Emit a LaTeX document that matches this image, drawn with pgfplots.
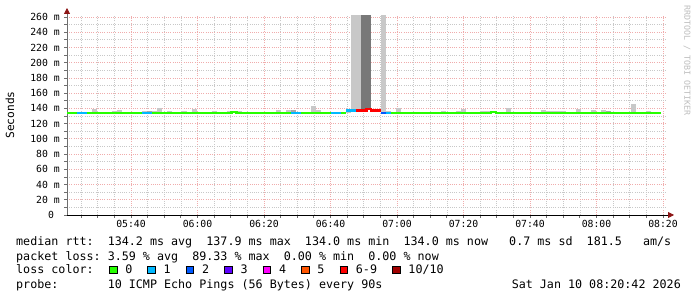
\documentclass[border=0pt]{standalone}
\usepackage{pgfplots}
\pgfplotsset{compat=1.18}
\usepackage{fontspec}
\setmainfont{DejaVu Sans Mono}
\usetikzlibrary{arrows.meta}
\definecolor{lc0}{HTML}{26FF00}
\definecolor{lc1}{HTML}{00B8FF}
\definecolor{lc2}{HTML}{0059FF}
\definecolor{lc3}{HTML}{5E00FF}
\definecolor{lc4}{HTML}{FF00FF}
\definecolor{lc5}{HTML}{FF5500}
\definecolor{lc6}{HTML}{FF0000}
\definecolor{lc10}{HTML}{A10000}
\definecolor{smokeL}{RGB}{200,200,200}
\definecolor{smokeM}{RGB}{168,168,168}
\definecolor{smokeD}{RGB}{120,120,120}
\definecolor{mgrid}{RGB}{240,172,172}
\definecolor{ngrid}{RGB}{200,200,200}
\definecolor{arrowred}{RGB}{140,20,20}
\definecolor{yaxis}{RGB}{110,110,110}
\definecolor{wm}{RGB}{190,190,190}
\newcommand{\lbox}[1]{{\setlength{\fboxsep}{0pt}\setlength{\fboxrule}{0.9bp}\fcolorbox{black}{#1}{\rule{0pt}{6.8bp}\hspace{6.8bp}}}}
\newcommand{\legfont}{\fontsize{11.7bp}{14bp}\selectfont}
\begin{document}
\begin{tikzpicture}
\useasboundingbox[fill=white] (0,0) rectangle (697bp,297bp);
\begin{axis}[
  scale only axis, width=598.5bp, height=200bp,
  at={(67bp,82bp)}, anchor=south west,
  xmin=0, xmax=120, ymin=0, ymax=262.6,
  axis x line=bottom, axis y line=left,
  x axis line style={draw=black, line width=0.8bp, shorten >=-8.5bp, -{Triangle[length=6bp,width=6bp,color=arrowred,fill=arrowred]}},
  y axis line style={draw=yaxis, line width=0.8bp, shorten >=-7bp, -{Triangle[length=6bp,width=6bp,color=arrowred,fill=arrowred]}},
  xtick={12.8333,26.1667,39.5,52.8333,66.1667,79.5,92.8333,106.1667,119.5},
  xticklabels={05:40,06:00,06:20,06:40,07:00,07:20,07:40,08:00,08:20},
  minor xtick={2.8333,6.1667,9.5,16.1667,19.5,22.8333,29.5,32.8333,36.1667,42.8333,46.1667,49.5,56.1667,59.5,62.8333,69.5,72.8333,76.1667,82.8333,86.1667,89.5,96.1667,99.5,102.8333,109.5,112.8333,116.1667},
  ytick={0,20,40,60,80,100,120,140,160,180,200,220,240,260},
  yticklabels={0~~,20 m,40 m,60 m,80 m,100 m,120 m,140 m,160 m,180 m,200 m,220 m,240 m,260 m},
  minor ytick={10,30,50,70,90,110,130,150,170,190,210,230,250},
  grid=both,
  major grid style={draw=mgrid, dash pattern=on 1bp off 1.2bp, line width=0.7bp},
  minor grid style={draw=ngrid, dash pattern=on 1bp off 1.2bp, line width=0.7bp},
  tick align=outside,
  major tick length=3bp, minor tick length=3bp,
  tick style={draw=yaxis, line width=0.8bp},
  ticklabel style={font=\fontsize{9.8bp}{10bp}\selectfont},
  xticklabel style={anchor=north, inner sep=0pt, yshift=-2bp},
  yticklabel style={anchor=east, inner sep=0pt, xshift=-4bp},
  ylabel={Seconds},
  ylabel style={font=\fontsize{11.2bp}{12bp}\selectfont, at={(axis description cs:-0.0952,0.5)}, anchor=center},
  unbounded coords=jump,
]
% smoke: light small
\addplot[smokeL, line width=4.99bp, line cap=butt] coordinates {
(5.5,134.2)(5.5,139.6)(5.5,nan)
(9.5,134.2)(9.5,137)(9.5,nan)
(10.5,134.2)(10.5,138.2)(10.5,nan)
(15.5,134.2)(15.5,137)(15.5,nan)
(17.5,134.2)(17.5,137)(17.5,nan)
(18.5,134.2)(18.5,141)(18.5,nan)
(20.5,134.2)(20.5,137)(20.5,nan)
(23.5,134.2)(23.5,137)(23.5,nan)
(25.5,134.2)(25.5,139.6)(25.5,nan)
(29.5,134.2)(29.5,137)(29.5,nan)
(32.5,134.2)(32.5,137)(32.5,nan)
(33.5,134.2)(33.5,137)(33.5,nan)
(34.5,134.2)(34.5,137)(34.5,nan)
(42.5,134.2)(42.5,138.2)(42.5,nan)
(44.5,134.2)(44.5,138.2)(44.5,nan)
(49.5,134.2)(49.5,143.5)(49.5,nan)
(50.5,134.2)(50.5,138)(50.5,nan)
(64.5,134.2)(64.5,136)(64.5,nan)
(66.5,134.2)(66.5,140)(66.5,nan)
(75.5,134.2)(75.5,137)(75.5,nan)
(78.5,134.2)(78.5,137)(78.5,nan)
(79.5,134.2)(79.5,139.6)(79.5,nan)
(83.5,134.2)(83.5,137)(83.5,nan)
(84.5,134.2)(84.5,137)(84.5,nan)
(88.5,134.2)(88.5,141)(88.5,nan)
(95.5,134.2)(95.5,138)(95.5,nan)
(96.5,134.2)(96.5,137)(96.5,nan)
(97.5,134.2)(97.5,137)(97.5,nan)
(98.5,134.2)(98.5,137)(98.5,nan)
(99.5,134.2)(99.5,137)(99.5,nan)
(102.5,134.2)(102.5,139.8)(102.5,nan)
(105.5,134.2)(105.5,138)(105.5,nan)
(107.5,134.2)(107.5,138)(107.5,nan)
(113.5,134.2)(113.5,145.8)(113.5,nan)
(116.5,134.2)(116.5,137)
};
% smoke: medium small
\addplot[smokeM, line width=4.99bp, line cap=butt] coordinates {
(16.5,134.2)(16.5,137)(16.5,nan)
(45.5,134.2)(45.5,138.5)(45.5,nan)
(108.5,134.2)(108.5,137)
};
% smoke: tall light
\addplot[smokeL, line width=4.99bp, line cap=butt] coordinates {
(56.5,134.2)(56.5,137.5)(56.5,nan)
(57.5,137.5)(57.5,262.6)(57.5,nan)
(58.5,137.5)(58.5,262.6)(58.5,nan)
(63.5,134.2)(63.5,262.6)
};
% smoke: tall dark
\addplot[smokeD, line width=4.99bp, line cap=butt] coordinates {
(59.5,137.5)(59.5,262.6)(59.5,nan)
(60.5,139)(60.5,262.6)
};
% median rtt, coloured by loss
\addplot[lc0, line width=2.5bp, line cap=butt, line join=miter] coordinates {
(0,134.2)(2,134.2)(2,nan)
(4,134.2)(15,134.2)(15,nan)
(17,134.2)(33,134.2)(33,135.3)(34,135.3)(34,134.2)(45,134.2)(45,nan)
(47,134.2)(53,134.2)(53,nan)
(55,134.2)(56,134.2)(56,nan)
(65,134.2)(85,134.2)(85,135.3)(86,135.3)(86,134.2)(119,134.2)
};
\addplot[lc1, line width=2.5bp, line cap=butt] coordinates {
(2,134.2)(4,134.2)(4,nan)
(15,134.2)(17,134.2)(17,nan)
(45,134.2)(47,134.2)(47,nan)
(53,134.2)(55,134.2)(55,nan)
(56,137.5)(58,137.5)(58,nan)
(64,134.2)(65,134.2)
};
\addplot[lc2, line width=2.5bp, line cap=butt] coordinates {(63,134.2)(64,134.2)};
\addplot[lc6, line width=2.5bp, line cap=butt, line join=miter] coordinates {
(58,137.5)(60,137.5)(60,139)(61,139)(61,137.5)(63,137.5)
};
\end{axis}
% watermark
\node[rotate=-90, anchor=west, inner sep=0pt, text=wm, font=\fontsize{8.3bp}{9bp}\selectfont] at (687bp,292bp) {RRDTOOL / TOBI OETIKER};
% legend
\node[anchor=base west, inner sep=0pt, font=\legfont] at (16bp,51.7bp) {median rtt:~~134.2 ms avg~~137.9 ms max~~134.0 ms min~~134.0 ms now~~~0.7 ms sd~~181.5~~~am/s};
\node[anchor=base west, inner sep=0pt, font=\legfont] at (16bp,36.7bp) {packet loss:~3.59 \% avg~~89.33 \% max~~0.00 \% min~~0.00 \% now};
\node[anchor=base west, inner sep=0pt, font=\legfont] at (16bp,23.7bp) {loss color:~~\hspace{1.1bp}\lbox{lc0}\hspace{7.8bp}0\hspace{15bp}\lbox{lc1}\hspace{7.8bp}1\hspace{15bp}\lbox{lc2}\hspace{7.8bp}2\hspace{15bp}\lbox{lc3}\hspace{7.8bp}3\hspace{15bp}\lbox{lc4}\hspace{7.8bp}4\hspace{15bp}\lbox{lc5}\hspace{7.8bp}5\hspace{15bp}\lbox{lc6}\hspace{7.8bp}6-9\hspace{15bp}\lbox{lc10}\hspace{7.8bp}10/10};
\node[anchor=base west, inner sep=0pt, font=\legfont] at (16bp,8.7bp) {probe:~~~~~~~10 ICMP Echo Pings (56 Bytes) every 90s};
\node[anchor=base east, inner sep=0pt, font=\legfont] at (681bp,8.7bp) {Sat Jan 10 08:20:42 2026};
\end{tikzpicture}
\end{document}
